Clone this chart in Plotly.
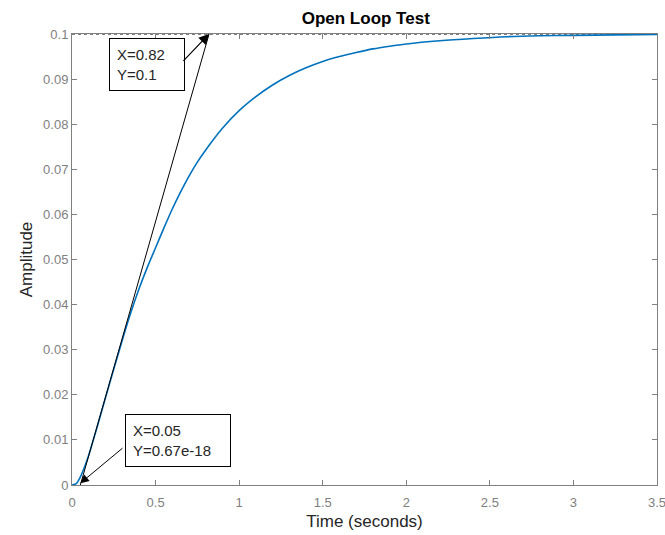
import plotly.graph_objects as go

# Step response
time_s = [0, 0.025, 0.05, 0.075, 0.1, 0.15, 0.2, 0.25, 0.3, 0.35, 0.4, 0.45, 0.5,
          0.55, 0.6, 0.65, 0.7, 0.75, 0.8, 0.9, 1.0, 1.1, 1.2, 1.3, 1.4, 1.5, 1.6,
          1.7, 1.8, 1.9, 2.0, 2.2, 2.4, 2.6, 2.8, 3.0, 3.25, 3.5]
amplitude = [0, 0.0003, 0.0018, 0.0040, 0.0066, 0.0128, 0.0193, 0.0257, 0.0320,
             0.0380, 0.0434, 0.0482, 0.0526, 0.0570, 0.0612, 0.0650, 0.0685,
             0.0716, 0.0743, 0.0791, 0.0830, 0.0861, 0.0887, 0.0908, 0.0925,
             0.0939, 0.0950, 0.0959, 0.0967, 0.0973, 0.0978, 0.0985, 0.0990,
             0.0994, 0.0996, 0.0997, 0.0998, 0.0999]

# Tangent line
tangent_x = [0.05, 0.82]
tangent_y = [0.0, 0.1]

# Steady-state line
steady_x = [0, 3.5]
steady_y = [0.1, 0.1]

x_ticks = [0, 0.5, 1, 1.5, 2, 2.5, 3, 3.5]
x_tick_labels = ["0", "0.5", "1", "1.5", "2", "2.5", "3", "3.5"]
y_ticks = [0, 0.01, 0.02, 0.03, 0.04, 0.05, 0.06, 0.07, 0.08, 0.09, 0.1]
y_tick_labels = ["0", "0.01", "0.02", "0.03", "0.04", "0.05", "0.06", "0.07",
                 "0.08", "0.09", "0.1"]

fig = go.Figure()
fig.add_trace(go.Scatter(x=steady_x, y=steady_y, mode="lines",
                         line=dict(color="black", width=1, dash="dot"),
                         hoverinfo="skip", showlegend=False))
fig.add_trace(go.Scatter(x=time_s, y=amplitude, mode="lines",
                         line=dict(color="#0072BD", width=1.6, shape="spline",
                                   smoothing=0.8),
                         showlegend=False))
fig.add_trace(go.Scatter(x=tangent_x, y=tangent_y, mode="lines",
                         line=dict(color="black", width=1),
                         showlegend=False))

font_fam = "Liberation Sans, Arial, sans-serif"

# Annotation boxes
fig.add_annotation(x=0.4487, y=0.0932, xref="x", yref="y", showarrow=False,
                   text="X=0.82<br>Y=0.1", align="left", width=60,
                   font=dict(family=font_fam, size=15, color="#262626"),
                   bgcolor="white", bordercolor="black", borderwidth=1, borderpad=7)
fig.add_annotation(x=0.636, y=0.0098, xref="x", yref="y", showarrow=False,
                   text="X=0.05<br>Y=0.67e-18", align="left", width=90,
                   font=dict(family=font_fam, size=15, color="#262626"),
                   bgcolor="white", bordercolor="black", borderwidth=1, borderpad=7)
# Arrows
fig.add_annotation(x=0.82, y=0.1, ax=0.658, ay=0.0937, xref="x", yref="y",
                   axref="x", ayref="y", text="", showarrow=True,
                   arrowhead=2, arrowsize=1.7, arrowwidth=1.2, arrowcolor="black")
fig.add_annotation(x=0.05, y=0.0004, ax=0.311, ay=0.00844, xref="x", yref="y",
                   axref="x", ayref="y", text="", showarrow=True,
                   arrowhead=2, arrowsize=1.7, arrowwidth=1.0, arrowcolor="black")

axis_common = dict(showline=True, linecolor="#808080", linewidth=1, mirror="ticks",
                   ticks="inside", ticklen=5, tickcolor="#808080", showgrid=False,
                   zeroline=False, automargin=False,
                   tickfont=dict(family=font_fam, size=13, color="#808080"))

fig.update_xaxes(range=[0, 3.5], tickvals=x_ticks, ticktext=x_tick_labels,
                 ticklabeloverflow="allow", ticklabelstandoff=5,
                 title=dict(text="Time (seconds)", standoff=6,
                            font=dict(family=font_fam, size=17, color="#262626")),
                 **axis_common)
fig.update_yaxes(range=[0, 0.1], tickvals=y_ticks, ticktext=y_tick_labels,
                 title=dict(text="Amplitude", standoff=6,
                            font=dict(family=font_fam, size=17, color="#262626")),
                 **axis_common)

fig.update_layout(
    width=665, height=535,
    margin=dict(l=72, r=8, t=34, b=50),
    paper_bgcolor="white", plot_bgcolor="white",
    title=dict(text="<b>Open Loop Test</b>", x=0.55, xanchor="center",
               y=0.967, yanchor="middle",
               font=dict(family=font_fam, size=17, color="black")),
)

fig.write_html("out.html")
